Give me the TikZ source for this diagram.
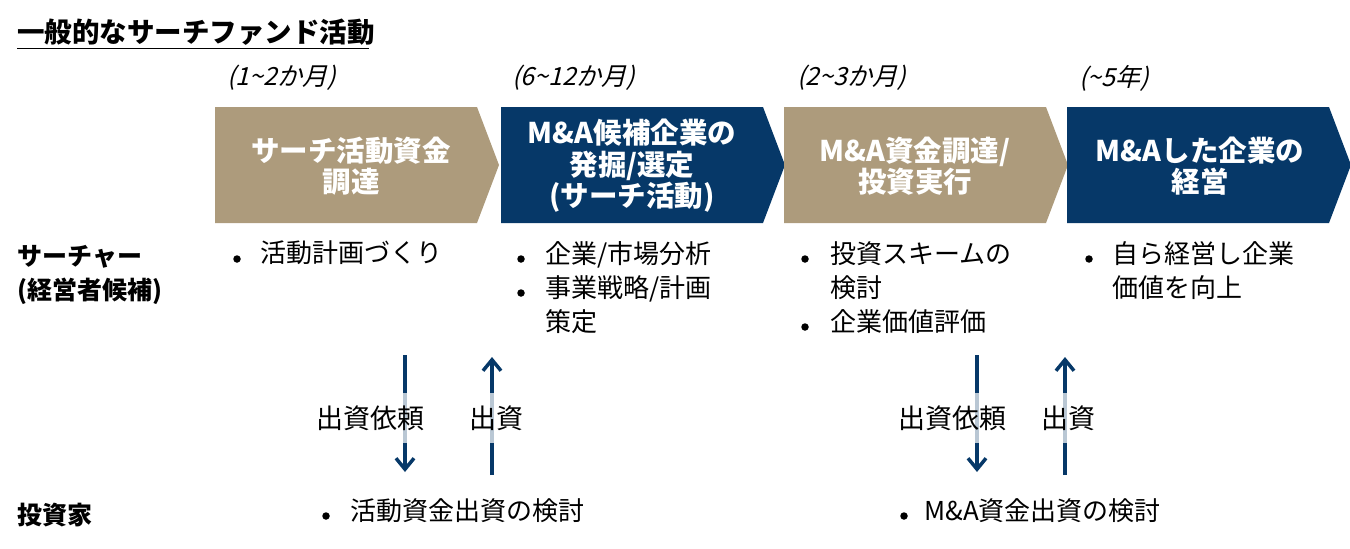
\documentclass[tikz,border=0pt]{standalone}
\usepackage{fontspec}
\setmainfont{Noto Sans CJK JP}[ItalicFont={Noto Sans CJK JP}, ItalicFeatures={FakeSlant=0.25}]
\usetikzlibrary{arrows.meta}
\definecolor{tanc}{RGB}{173,155,124}
\definecolor{navyc}{RGB}{6,56,104}
\tikzset{
  chevtext/.style={text=white, font=\fontsize{28.5}{31.5}\selectfont\bfseries, align=center},
  period/.style={font=\fontsize{25}{28}\selectfont\itshape, anchor=west},
  rowlab/.style={font=\fontsize{25}{34}\selectfont\bfseries, anchor=west, align=left},
  bul/.style={font=\fontsize{26}{34}\selectfont, anchor=north west, align=left, inner sep=0pt},
  dot/.style={circle, fill=black, inner sep=0pt, minimum size=7.5pt},
  flow/.style={navyc, line width=3.5pt, -{Straight Barb[length=11pt,width=18pt,line width=3.5pt]}},
  flowlab/.style={font=\fontsize{27}{30}\selectfont, fill=white, fill opacity=0.72, text opacity=1, minimum height=50pt, inner xsep=0pt}
}
\newcommand{\chev}[2]{\fill[#1] (#2,107) -- ++(262,0) -- ++(22,58) -- ++(-22,58) -- ++(-262,0) -- cycle;}
\begin{document}
\begin{tikzpicture}[x=1pt,y=-1pt]
\useasboundingbox (0,0) rectangle (1350,549);
% title
\node[font=\fontsize{27.5}{30}\selectfont\bfseries, anchor=west, inner sep=0pt] (title) at (17,32) {一般的なサーチファンド活動};
\draw[line width=1.5pt] (title.south west) ++(0,3) -- ++(352,0);
% periods
\node[period] (p1) at (224,78) {(1\textasciitilde 2か月)};
\node[period] (p2) at (509,78) {(6\textasciitilde 12か月)};
\node[period] (p3) at (794,78) {(2\textasciitilde 3か月)};
\node[period] (p4) at (1076,78) {(\textasciitilde 5年)};
% chevrons
\chev{tanc}{215}
\chev{navyc}{501}
\chev{tanc}{784}
\chev{navyc}{1067}
\node[chevtext] (c1) at (351,166) {サーチ活動資金\\調達};
\node[chevtext] (c2) at (632,166) {M\&A候補企業の\\発掘/選定\\(サーチ活動)};
\node[chevtext] (c3) at (915,166) {M\&A資金調達/\\投資実行};
\node[chevtext] (c4) at (1200,166) {M\&Aした企業の\\経営};
% row labels
\node[rowlab] (r1) at (14,275) {サーチャー\\(経営者候補)};
\node[rowlab] (r2) at (14,515) {投資家};
% bullets searcher row
\node[dot] (d1) at (237,259) {};
\node[bul] (b1) at (260,241) {活動計画づくり};
\node[dot] (d2) at (521,259) {};
\node[bul] (b2) at (545,241) {企業/市場分析};
\node[dot] (d3) at (521,293) {};
\node[bul] (b3) at (545,275) {事業戦略/計画\\策定};
\node[dot] (d4) at (805,259) {};
\node[bul] (b4) at (830,241) {投資スキームの\\検討};
\node[dot] (d5) at (805,327) {};
\node[bul] (b5) at (830,309) {企業価値評価};
\node[dot] (d6) at (1089,259) {};
\node[bul] (b6) at (1112,241) {自ら経営し企業\\価値を向上};
% investor row
\node[dot] (d7) at (326,516) {};
\node[bul] (i1) at (350,498) {活動資金出資の検討};
\node[dot] (d8) at (904,516) {};
\node[bul] (i2) at (924,498) {M\&A資金出資の検討};
% arrows
\coordinate (a1s) at (405,355); \coordinate (a1e) at (405,472);
\coordinate (a2s) at (492,475); \coordinate (a2e) at (492,357);
\coordinate (a3s) at (977,355); \coordinate (a3e) at (977,472);
\coordinate (a4s) at (1065,475); \coordinate (a4e) at (1065,357);
\draw[flow] (a1s) -- (a1e);
\draw[flow] (a2s) -- (a2e);
\draw[flow] (a3s) -- (a3e);
\draw[flow] (a4s) -- (a4e);
\node[flowlab, minimum width=165pt] (l1) at (370,418) {出資依頼};
\node[flowlab, minimum width=170pt, text width=150pt, align=left] (l2) at (544,418) {出資};
\node[flowlab, minimum width=140pt] (l3) at (952,418) {出資依頼};
\node[flowlab, minimum width=90pt] (l4) at (1068,418) {出資};
\end{tikzpicture}
\end{document}
